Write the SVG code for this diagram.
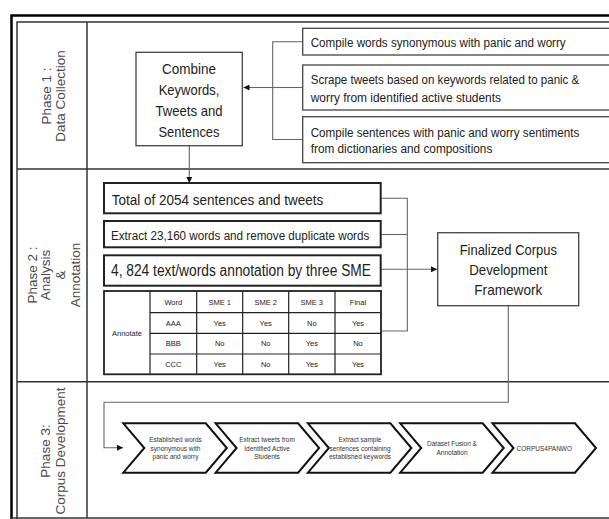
<svg xmlns="http://www.w3.org/2000/svg" width="609" height="519" viewBox="0 0 609 519">
<defs>
<marker id="ah" viewBox="0 0 10 10" refX="10" refY="5" markerWidth="6" markerHeight="6" markerUnits="userSpaceOnUse" orient="auto">
<path d="M0,0 L10,5 L0,10 Z" fill="#111"/>
</marker>
<style>
text{font-family:"Liberation Sans",Arial,sans-serif;fill:#222}
.ph{font-size:13.5px;fill:#4a4a4a;text-anchor:middle}
.bx{fill:#fff;stroke:#444;stroke-width:1.3}
.bx2{fill:#fff;stroke:#222;stroke-width:2}
.t15{font-size:15px}
.t13{font-size:12.5px}
.mid{text-anchor:middle}
.conn{fill:none;stroke:#666;stroke-width:1.1}
.tb{font-size:7.5px;text-anchor:middle;fill:#222}
.tl{stroke:#222;stroke-width:1.2}
.chev{fill:#fff;stroke:#111;stroke-width:2;stroke-linejoin:miter}
.ct{font-size:6.5px;text-anchor:middle;fill:#333}
.frm{fill:none;stroke:#333;stroke-width:1.5}
</style>
</defs>
<rect x="0" y="0" width="609" height="519" fill="#fff"/>

<!-- frame -->
<g id="frame">
<path d="M11.5,519 V15.5 H612" fill="none" stroke="#000" stroke-width="2.5"/>
<path d="M17,519 V22 H612" class="frm"/>
<line x1="11" y1="518" x2="612" y2="518" class="frm"/>
<line x1="87" y1="22" x2="87" y2="518" class="frm"/>
<line x1="17" y1="169" x2="612" y2="169" class="frm"/>
<line x1="17" y1="381.7" x2="612" y2="381.7" class="frm"/>
</g>

<!-- phase labels -->
<g id="phase1">
<text class="ph" transform="translate(51,96) rotate(-90)">Phase 1 :</text>
<text class="ph" transform="translate(65,96) rotate(-90)">Data Collection</text>
</g>
<g id="phase2">
<text class="ph" transform="translate(37,275) rotate(-90)">Phase 2 :</text>
<text class="ph" transform="translate(50,275) rotate(-90)">Analysis</text>
<text class="ph" transform="translate(65,275) rotate(-90)">&amp;</text>
<text class="ph" transform="translate(80,275) rotate(-90)">Annotation</text>
</g>
<g id="phase3">
<text class="ph" transform="translate(50,451) rotate(-90)">Phase 3:</text>
<text class="ph" transform="translate(65,451) rotate(-90)">Corpus Development</text>
</g>

<!-- connectors -->
<g id="connectors">
<path class="conn" d="M302.7,41.7 H272.7 V139.5 H302.7"/>
<path class="conn" d="M302.7,87.5 H272.7"/>
<line class="conn" x1="272.7" y1="87.5" x2="243.5" y2="87.5" marker-end="url(#ah)"/>
<line class="conn" x1="189.3" y1="145.7" x2="189.3" y2="183" marker-end="url(#ah)"/>
<path class="conn" d="M381,198.3 H407.3 V331 H381"/>
<path class="conn" d="M381,234.5 H407.3"/>
<line class="conn" x1="381" y1="269.3" x2="437" y2="269.3" marker-end="url(#ah)"/>
<path class="conn" d="M508.3,305.7 V402.3 H104 V447.7 H123" marker-end="url(#ah)"/>
</g>

<!-- phase 1 nodes -->
<g id="combine">
<rect class="bx" x="136" y="52.3" width="106.3" height="93.4"/>
<text class="t15 mid" x="189" y="73.5" textLength="54" lengthAdjust="spacingAndGlyphs">Combine</text>
<text class="t15 mid" x="189" y="95" textLength="60.6" lengthAdjust="spacingAndGlyphs">Keywords,</text>
<text class="t15 mid" x="189" y="115.5" textLength="67" lengthAdjust="spacingAndGlyphs">Tweets and</text>
<text class="t15 mid" x="189" y="136.5" textLength="61" lengthAdjust="spacingAndGlyphs">Sentences</text>
</g>
<g id="compile-words">
<rect class="bx" x="302.7" y="28.3" width="320" height="26.7"/>
<text class="t13" x="310.7" y="47" textLength="255" lengthAdjust="spacingAndGlyphs">Compile words synonymous with panic and worry</text>
</g>
<g id="scrape-tweets">
<rect class="bx" x="302.7" y="65" width="320" height="45"/>
<text class="t13" x="310.7" y="84" textLength="268.6" lengthAdjust="spacingAndGlyphs">Scrape tweets based on keywords related to panic &amp;</text>
<text class="t13" x="310.7" y="101.5" textLength="190.3" lengthAdjust="spacingAndGlyphs">worry from identified active students</text>
</g>
<g id="compile-sentences">
<rect class="bx" x="302.7" y="116.7" width="320" height="46"/>
<text class="t13" x="310.7" y="136.5" textLength="268.6" lengthAdjust="spacingAndGlyphs">Compile sentences with panic and worry sentiments</text>
<text class="t13" x="310.7" y="153" textLength="181.6" lengthAdjust="spacingAndGlyphs">from dictionaries and compositions</text>
</g>

<!-- phase 2 nodes -->
<g id="total">
<rect class="bx2" x="104" y="183" width="276.7" height="30.3"/>
<text class="t15" x="111.7" y="205" textLength="211.6" lengthAdjust="spacingAndGlyphs">Total of 2054 sentences and tweets</text>
</g>
<g id="extract">
<rect class="bx2" x="104" y="221" width="276.7" height="26.3"/>
<text class="t13" x="111" y="239.5" textLength="258.3" lengthAdjust="spacingAndGlyphs">Extract 23,160 words and remove duplicate words</text>
</g>
<g id="annotation">
<rect class="bx2" x="104" y="255.3" width="276.7" height="30.4"/>
<text x="111" y="275.5" font-size="16" textLength="260" lengthAdjust="spacingAndGlyphs">4, 824 text/words annotation by three SME</text>
</g>
<g id="table">
<rect x="104" y="291" width="277" height="83.3" fill="#fff" stroke="#222" stroke-width="1.8"/>
<line class="tl" x1="150" y1="291" x2="150" y2="374.3"/>
<line class="tl" x1="196.7" y1="291" x2="196.7" y2="374.3"/>
<line class="tl" x1="242.7" y1="291" x2="242.7" y2="374.3"/>
<line class="tl" x1="288.7" y1="291" x2="288.7" y2="374.3"/>
<line class="tl" x1="335" y1="291" x2="335" y2="374.3"/>
<line class="tl" x1="150" y1="312.7" x2="381" y2="312.7"/>
<line class="tl" x1="150" y1="333.3" x2="381" y2="333.3"/>
<line class="tl" x1="150" y1="354" x2="381" y2="354"/>
<text class="tb" x="127" y="336" font-size="6.5">Annotate</text>
<text class="tb" x="173.3" y="304.5">Word</text>
<text class="tb" x="219.7" y="304.5">SME 1</text>
<text class="tb" x="265.7" y="304.5">SME 2</text>
<text class="tb" x="311.8" y="304.5">SME 3</text>
<text class="tb" x="358" y="304.5">Final</text>
<text class="tb" x="173.3" y="325.5">AAA</text>
<text class="tb" x="219.7" y="325.5">Yes</text>
<text class="tb" x="265.7" y="325.5">Yes</text>
<text class="tb" x="311.8" y="325.5">No</text>
<text class="tb" x="358" y="325.5">Yes</text>
<text class="tb" x="173.3" y="346.3">BBB</text>
<text class="tb" x="219.7" y="346.3">No</text>
<text class="tb" x="265.7" y="346.3">No</text>
<text class="tb" x="311.8" y="346.3">Yes</text>
<text class="tb" x="358" y="346.3">No</text>
<text class="tb" x="173.3" y="367">CCC</text>
<text class="tb" x="219.7" y="367">Yes</text>
<text class="tb" x="265.7" y="367">No</text>
<text class="tb" x="311.8" y="367">Yes</text>
<text class="tb" x="358" y="367">Yes</text>
</g>
<g id="finalized">
<rect class="bx" x="437.7" y="232.7" width="141" height="73"/>
<text class="t15 mid" x="508.3" y="255" textLength="97.3" lengthAdjust="spacingAndGlyphs">Finalized Corpus</text>
<text class="t15 mid" x="508.3" y="275" textLength="78.3" lengthAdjust="spacingAndGlyphs">Development</text>
<text class="t15 mid" x="508.3" y="295" textLength="68" lengthAdjust="spacingAndGlyphs">Framework</text>
</g>

<!-- phase 3 chevrons -->
<g id="chev1">
<path class="chev" d="M123.3,423.3 H205.8 L226.8,448 L205.8,472.7 H123.3 L144.3,448 Z"/>
<text class="ct" x="175.5" y="442">Established words</text>
<text class="ct" x="175.5" y="450.5">synonymous with</text>
<text class="ct" x="175.5" y="458.5">panic and worry</text>
</g>
<g id="chev2">
<path class="chev" d="M215.6,423.3 H298.1 L319.1,448 L298.1,472.7 H215.6 L236.6,448 Z"/>
<text class="ct" x="267" y="442">Extract tweets from</text>
<text class="ct" x="267" y="450.5">Identified Active</text>
<text class="ct" x="267" y="458.5">Students</text>
</g>
<g id="chev3">
<path class="chev" d="M307.9,423.3 H390.4 L411.4,448 L390.4,472.7 H307.9 L328.9,448 Z"/>
<text class="ct" x="360" y="442">Extract sample</text>
<text class="ct" x="360" y="450.5">sentences containing</text>
<text class="ct" x="360" y="458.5">established keywords</text>
</g>
<g id="chev4">
<path class="chev" d="M400.2,423.3 H482.7 L503.7,448 L482.7,472.7 H400.2 L421.2,448 Z"/>
<text class="ct" x="452" y="446">Dataset Fusion &amp;</text>
<text class="ct" x="452" y="454.5">Annotation</text>
</g>
<g id="chev5">
<path class="chev" d="M492.5,423.3 H575 L596,448 L575,472.7 H492.5 L513.5,448 Z"/>
<text class="ct" x="544.3" y="450.5">CORPUS4PANWO</text>
</g>
</svg>
